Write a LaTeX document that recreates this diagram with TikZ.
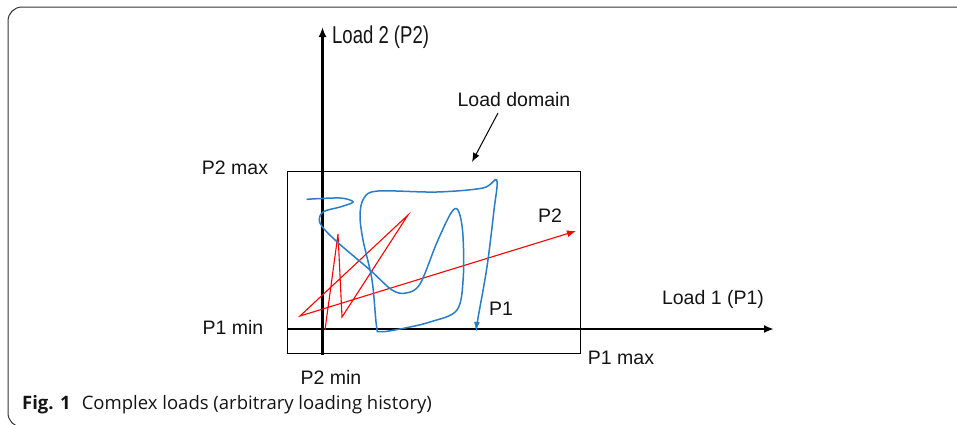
\documentclass[tikz,border=0pt]{standalone}
\usepackage{fontspec}
\setmainfont{Liberation Sans}
\newfontfamily\capfont{Open Sans}
\usetikzlibrary{arrows.meta}
\definecolor{bl}{RGB}{40,125,200}
\definecolor{txt}{RGB}{20,20,20}
\tikzset{
  lbl/.style={inner sep=0pt, text=txt, font=\fontsize{19.5}{23}\selectfont},
  axis/.style={line width=2.4pt, -{Latex[length=10pt,width=8pt]}},
  dom/.style={line width=0.9pt},
  redp/.style={red, line width=1.1pt},
  bluep/.style={bl, line width=1.5pt},
}
\begin{document}
\begin{tikzpicture}[x=1pt,y=-1pt]
\useasboundingbox (0,0) rectangle (957,424);
% frame
\draw[line width=1pt, black!80, rounded corners=14pt] (960,7) -- (8,7) -- (8,427) -- (60,427);
% load domain rectangle
\draw[dom] (287,171) rectangle (580,353);
% axes
\coordinate (hx0) at (287,329);
\coordinate (hx1) at (774,329);
\coordinate (vy0) at (322.5,355);
\coordinate (vy1) at (322.5,27);
\draw[axis] (hx0) -- (hx1);
\draw[axis] (vy0) -- (vy1);
% labels
\node[lbl, anchor=west, yscale=1.25, xscale=0.95] (l2) at (332,37) {Load 2 (P2)};
\node[lbl] (ld) at (514,100) {Load domain};
\node[lbl] (p2max) at (235,168) {P2 max};
\node[lbl] (p1min) at (233,327) {P1 min};
\node[lbl] (p2min) at (331,377) {P2 min};
\node[lbl] (p1max) at (621,358) {P1 max};
\node[lbl] (l1) at (713,299) {Load 1 (P1)};
\node[lbl] (p2) at (550,216) {P2};
\node[lbl] (p1) at (501,309) {P1};
% arrow to domain
\coordinate (da) at (498,113);
\coordinate (db) at (472,162);
\draw[line width=1pt, -{Latex[length=9pt,width=7pt]}] (da) -- (db);
% red path
\coordinate (r0) at (325,330);
\coordinate (r1) at (338,234);
\coordinate (r2) at (342,317);
\coordinate (r3) at (408,215);
\coordinate (r4) at (300,316);
\coordinate (r5) at (576,231);
\draw[redp, -{Latex[length=9pt,width=7pt]}] (r0) -- (r1) -- (r2) -- (r3) -- (r4) -- (r5);
% blue path
\draw[bluep, -{Latex[length=9pt,width=6pt]}] plot[smooth, tension=0.55] coordinates {
 (306.7,199.3) (340,198) (353,202) (340,207) (323,212) (320,223) (335,240)
 (370,270) (392,290) (406,293) (420,284) (436.7,243) (451,213) (458,210)
 (462.7,232) (463.3,276.7) (457,310) (430,322) (400,329) (380,331.7) (376.5,326)
 (372,280) (363,240) (360,215) (364,198) (378,191) (436.7,192) (483,188) (496.7,180)
 (494,210) (487,266.7) (478,318) (476,331)};
% caption
\node[anchor=west, inner sep=0pt, text=txt, font=\capfont\fontsize{18.5}{22}\selectfont] (cap) at (22,405) {\textbf{Fig. 1}\hspace{0.6em}Complex loads (arbitrary loading history)};
\end{tikzpicture}
\end{document}
